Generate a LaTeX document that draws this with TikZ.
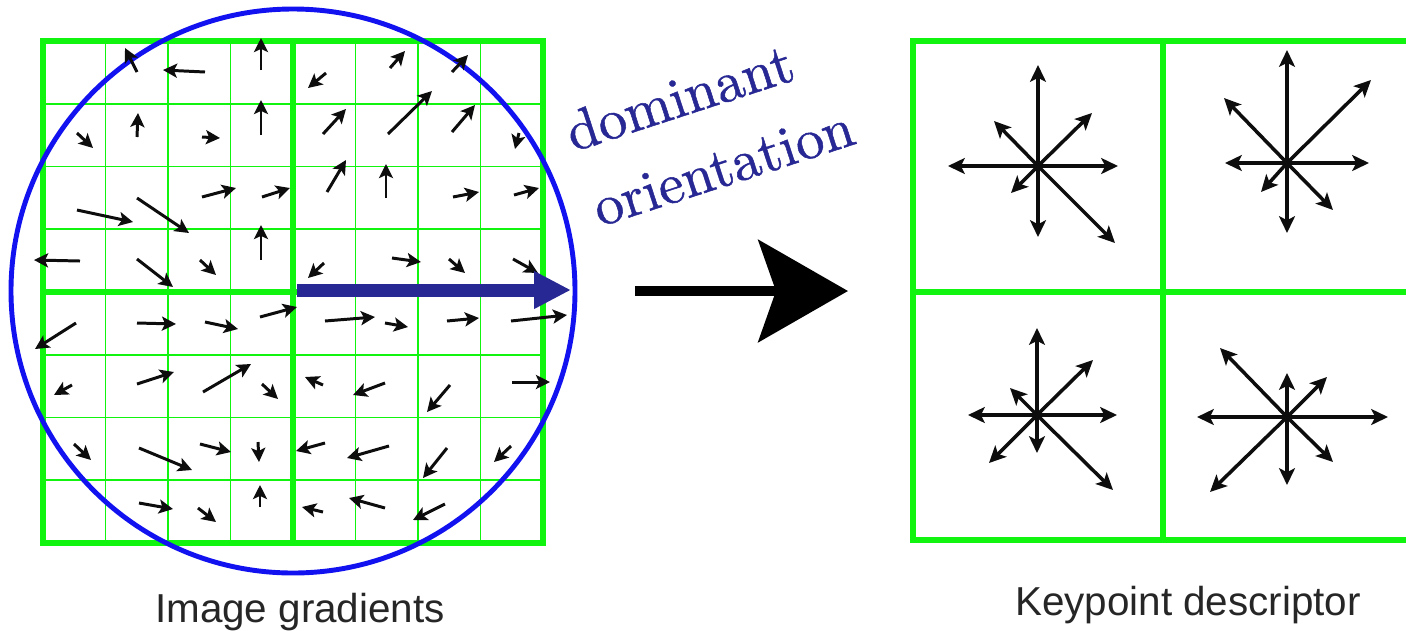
\documentclass[tikz,border=0pt]{standalone}
\usepackage{fontspec}
\newfontfamily\notefont[FakeBold=0.9]{lmroman10-regular.otf}
\newfontfamily\captionfont{Liberation Sans}
\usetikzlibrary{arrows.meta}
\definecolor{SiftGreen}{RGB}{16,244,16}
\definecolor{SiftBlue}{RGB}{18,18,240}
\definecolor{SiftNavy}{RGB}{40,40,148}
\definecolor{SiftInk}{gray}{0.05}
\definecolor{SiftCaption}{gray}{0.15}
\tikzset{
    sift/diagram/.style={
        x=0.02cm, y=-0.02cm,
        line cap=butt, line join=miter
    },
    sift/cell/.style={draw=SiftGreen, line width=1.1pt},
    sift/block/.style={draw=SiftGreen, line width=3.4pt},
    sift/window/.style={draw=SiftBlue, line width=2.8pt},
    sift/grad/.style={
        draw=SiftInk, line width=1.7pt,
        -{Stealth[length=8pt, width=8pt, inset=1.8pt]}
    },
    sift/bin/.style={
        draw=SiftInk, line width=2pt,
        -{Stealth[length=9.5pt, width=9pt, inset=2.2pt]}
    },
    sift/dominant/.style={
        draw=SiftNavy, line width=7.4pt,
        -{Triangle[length=21pt, width=20pt]}
    },
    sift/map/.style={
        draw=black, line width=5.7pt,
        -{Stealth[length=51pt, width=58pt, inset=10pt]}
    },
    sift/note/.style={
        text=SiftNavy, font=\notefont\fontsize{32.4}{40}\selectfont,
        anchor=base west, rotate=18, inner sep=0pt
    },
    sift/caption/.style={
        text=SiftCaption, font=\captionfont\fontsize{23}{28}\selectfont,
        anchor=base, inner sep=0pt
    }
}

\begin{document}
\begin{tikzpicture}[sift/diagram]
    \useasboundingbox (0,0) rectangle (1406,630);

    % image gradients: 8x8 samples, 4x4 blocks
    \foreach \i in {1,...,7} {
        \draw[sift/cell] ({43+62.5*\i},41) -- ({43+62.5*\i},543);
        \draw[sift/cell] (43,{41+62.75*\i}) -- (543,{41+62.75*\i});
    }
    \draw[sift/block] (43,41) rectangle (543,543);
    \draw[sift/block] (293,41) -- (293,543);
    \draw[sift/block] (43,292) -- (543,292);
    \draw[sift/window] (293,291) circle (282);

    \foreach \ax/\ay/\bx/\by in {
        137/72/125/48, 205/72/163/70, 261/70/261/38, 326/73/308/88,
        390/68/405/51, 452/72/468/55,
        77/133/93/148, 137/137/138/113, 202/137/220/138, 261/135/261/100,
        323/134/346/109, 388/134/432/91, 452/132/475/105, 519/133/515/149,
        77/210/133/222, 137/198/189/233, 202/197/236/188, 262/197/290/188,
        327/192/346/160, 386/198/386/164, 453/197/479/192, 514/195/539/188,
        80/261/34/260, 137/259/173/287, 200/260/216/275, 261/260/261/225,
        324/263/308/278, 392/258/421/262, 449/259/465/273, 513/259/538/273,
        76/323/35/349, 137/323/176/324, 205/322/238/329, 260/317/297/307,
        325/321/375/317, 385/323/408/327, 447/321/479/318, 511/321/567/315,
        72/385/54/395, 137/384/174/372, 203/392/251/364, 262/384/278/399,
        323/385/305/377, 385/383/353/395, 450/385/427/412, 512/382/550/382,
        74/444/91/460, 139/448/192/470, 200/444/231/452, 258/442/259/462,
        325/443/296/451, 389/446/347/458, 447/448/423/478, 511/446/494/462,
        139/503/173/509, 198/508/216/522, 260/507/260/485,
        323/512/302/507, 385/508/349/498, 445/504/413/520}
        \draw[sift/grad] (\ax,\ay) -- (\bx,\by);

    \coordinate (centre) at (297,290);
    \coordinate (orient) at (571,290);
    \draw[sift/dominant] (centre) -- (orient);

    \node[sift/note] (dom) at (573,152) {dominant};
    \node[sift/note] (ori) at (600,227) {orientation};

    \coordinate (map start) at (635,291);
    \coordinate (map end) at (848,291);
    \draw[sift/map] (map start) -- (map end);

    % keypoint descriptor: 2x2 histograms
    \begin{scope}
        \clip (900,0) rectangle (1406,630);
        \draw[sift/block] (913,41) rectangle (1430,540);
        \draw[sift/block] (1163,41) -- (1163,540);
        \draw[sift/block] (913,292) -- (1430,292);
    \end{scope}

    \begin{scope}[shift={(1038,166)}]
        \foreach \dx/\dy in {0/-101, 0/71, -90/0, 80/0, 54/-53, -44/-45, -27/27, 77/77}
            \draw[sift/bin] (0,0) -- (\dx,\dy);
    \end{scope}
    \begin{scope}[shift={(1287,163)}]
        \foreach \dx/\dy in {0/-113, 0/70, -62/0, 82/0, 84/-83, -63/-65, -26/29, 46/47}
            \draw[sift/bin] (0,0) -- (\dx,\dy);
    \end{scope}
    \begin{scope}[shift={(1037,415)}]
        \foreach \dx/\dy in {0/-87, 0/38, -69/0, 80/0, 56/-55, -27/-27, -48/48, 76/75}
            \draw[sift/bin] (0,0) -- (\dx,\dy);
    \end{scope}
    \begin{scope}[shift={(1287,417)}]
        \foreach \dx/\dy in {0/-44, 0/68, -90/0, 101/0, 40/-40, -67/-69, -77/75, 46/45}
            \draw[sift/bin] (0,0) -- (\dx,\dy);
    \end{scope}

    \node[sift/caption] (gradcap) at (300,622) {Image gradients};
    \node[sift/caption] (desccap) at (1188,615) {Keypoint descriptor};
\end{tikzpicture}
\end{document}
